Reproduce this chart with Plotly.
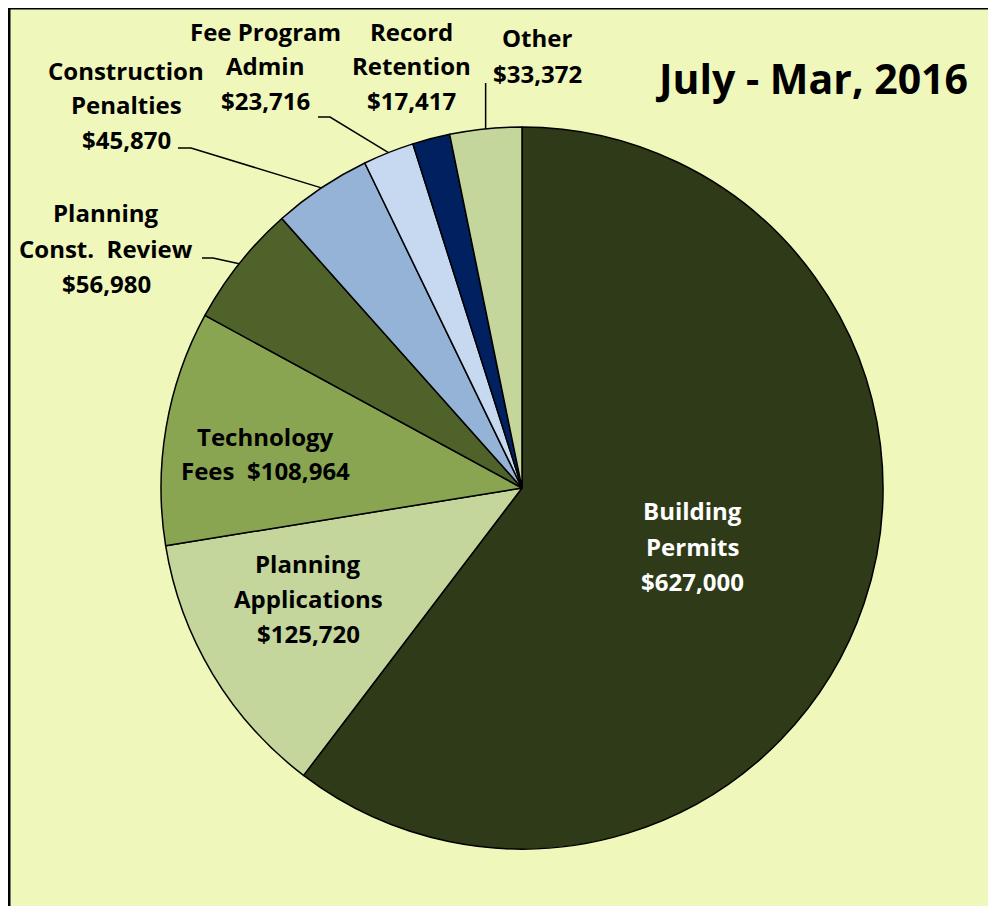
import math
import plotly.graph_objects as go

W, H = 996, 906
OFF = 8  # page body margin in the browser

labels = ["Building Permits", "Planning Applications", "Technology Fees",
          "Planning Const. Review", "Construction Penalties",
          "Fee Program Admin", "Record Retention", "Other"]
values = [627000, 125720, 108964, 56980, 45870, 23716, 17417, 33372]
colors = ["#2F3A18", "#C4D69C", "#8AA552", "#4F622A", "#95B3D7",
          "#C6D9F0", "#002060", "#C4D69C"]
label_text = ["Building|Permits|{v}", "Planning|Applications|{v}",
              "Technology|Fees\u00a0 {v}", "Planning|Const.\u00a0 Review|{v}",
              "Construction|Penalties|{v}", "Fee Program|Admin|{v}",
              "Record|Retention|{v}", "Other|{v}"]
title_text = "July - Mar, 2016"

# pie geometry in screen pixels
cx, cy, r = 522, 488, 361

# label placement (pixel centre of first line), and font colour
label_pos = [(692, 511), (308, 563), (265, 436), (106, 213),
             (126, 70), (265, 31), (411, 31), (537, 38)]
label_col = ["white", "black", "black", "black", "black", "black", "black", "black"]
line_gap = 35

# leader lines: start points before the pie edge
leaders = {7: [("mid", 83)], 5: [(318, 117), (330, 117)],
           4: [(178, 148), (191, 148)], 3: [(202, 258), (213, 258)]}

def px(x):
    return (x - OFF) / W

def py(y):
    return 1 - (y - OFF) / H

fig = go.Figure()

fig.add_trace(go.Pie(
    labels=labels,
    values=values,
    sort=False,
    direction="clockwise",
    rotation=0,
    marker=dict(colors=colors, line=dict(color="black", width=1.5)),
    textinfo="none",
    hoverinfo="skip",
    showlegend=False,
    domain=dict(x=[px(cx - r), px(cx + r)], y=[py(cy + r), py(cy - r)]),
))

# background frame
fig.add_shape(type="rect", xref="paper", yref="paper",
              x0=px(9), x1=px(993), y0=-0.1, y1=py(8),
              fillcolor="#EFF7BB", line=dict(color="black", width=3),
              layer="below")

# leader lines to the middle of each slice edge
total = sum(values)
cum = 0
mids = []
for v in values:
    mids.append((cum + v / 2) / total * 360)
    cum += v

for i, pts in leaders.items():
    a = math.radians(mids[i])
    ex, ey = cx + r * math.sin(a), cy - r * math.cos(a)
    coords = [(ex if x == "mid" else x, y) for (x, y) in pts]
    coords.append((ex, ey))
    path = "M " + " L ".join(f"{px(x)},{py(y)}" for x, y in coords)
    fig.add_shape(type="path", xref="paper", yref="paper", path=path,
                  line=dict(color="black", width=1.5))

font = "'Open Sans', sans-serif"
for i, tpl in enumerate(label_text):
    lines = tpl.format(v=f"${values[i]:,}").split("|")
    x0, y0 = label_pos[i]
    for j, line in enumerate(lines):
        fig.add_annotation(x=px(x0), y=py(y0 + j * line_gap), xref="paper", yref="paper",
                           text=f"<b>{line}</b>", showarrow=False,
                           xanchor="center", yanchor="middle",
                           font=dict(family=font, size=24, color=label_col[i]))

fig.add_annotation(x=px(811), y=py(78), xref="paper", yref="paper",
                   text=f"<b>{title_text}</b>", showarrow=False,
                   xanchor="center", yanchor="middle",
                   font=dict(family=font, size=41, color="black"))

fig.update_layout(
    width=W, height=H,
    margin=dict(l=0, r=0, t=0, b=0),
    paper_bgcolor="white",
    plot_bgcolor="white",
)

fig.write_html("out.html")
